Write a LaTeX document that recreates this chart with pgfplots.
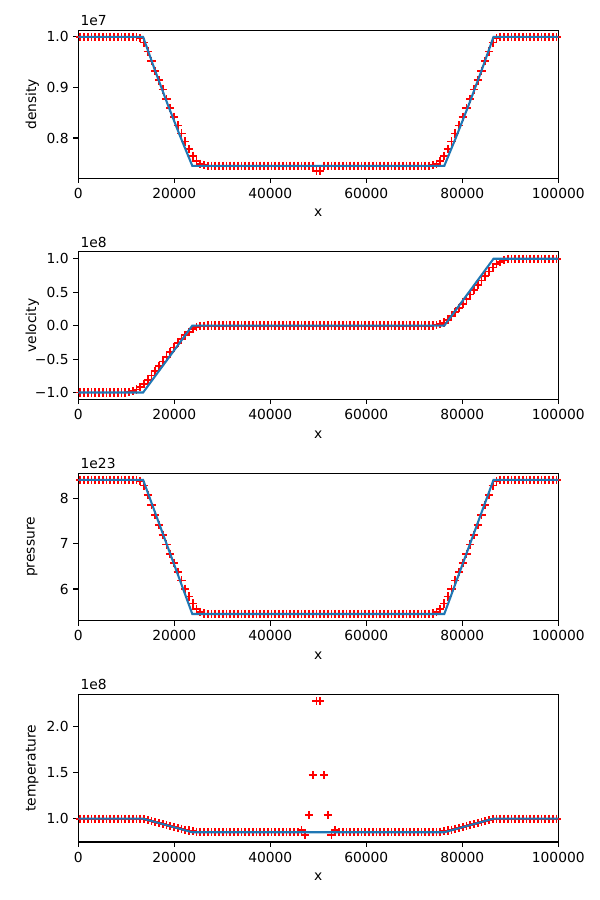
\documentclass[border=0pt]{standalone}
\usepackage{fontspec}
\setmainfont{DejaVu Sans}
\usepackage{pgfplots}
\usepackage{pgfplotstable}
\pgfplotsset{compat=1.18}
\definecolor{mplblue}{HTML}{1F77B4}

\pgfplotstableread{
x rho v p T
390.625 1.0 -1.0 8.40 1.0
1171.875 1.0 -1.0 8.40 1.0
1953.125 1.0 -1.0 8.40 1.0
2734.375 1.0 -1.0 8.40 1.0
3515.625 1.0 -1.0 8.40 1.0
4296.875 1.0 -1.0 8.40 1.0
5078.125 1.0 -1.0 8.40 1.0
5859.375 1.0 -1.0 8.40 1.0
6640.625 1.0 -1.0 8.40 1.0
7421.875 1.0 -1.0 8.40 1.0
8203.125 1.0 -1.0 8.40 1.0
8984.375 1.0 -1.0 8.40 1.0
9765.625 1.0 -1.0 8.40 1.0
10546.875 1.0 -0.997 8.40 1.0
11328.125 1.0 -0.98 8.40 1.0
12109.375 1.0 -0.955 8.40 1.0
12890.625 0.998 -0.92 8.379 0.999
13671.875 0.989 -0.87 8.276 0.994
14453.125 0.971 -0.81 8.061 0.983
15234.375 0.952 -0.745 7.845 0.972
16015.625 0.933 -0.675 7.627 0.961
16796.875 0.914 -0.605 7.409 0.951
17578.125 0.896 -0.535 7.191 0.940
18359.375 0.877 -0.465 6.978 0.929
19140.625 0.859 -0.395 6.772 0.919
19921.875 0.842 -0.328 6.571 0.909
20703.125 0.825 -0.262 6.376 0.899
21484.375 0.809 -0.200 6.188 0.890
22265.625 0.793 -0.142 6.005 0.881
23046.875 0.778 -0.090 5.834 0.872
23828.125 0.765 -0.048 5.680 0.864
24609.375 0.754 -0.020 5.559 0.858
25390.625 0.749 -0.006 5.491 0.855
26171.875 0.746 -0.001 5.462 0.854
26953.125 0.745 0.0 5.45 0.853
27734.375 0.745 0.0 5.45 0.853
28515.625 0.745 0.0 5.45 0.853
29296.875 0.745 0.0 5.45 0.853
30078.125 0.745 0.0 5.45 0.853
30859.375 0.745 0.0 5.45 0.853
31640.625 0.745 0.0 5.45 0.853
32421.875 0.745 0.0 5.45 0.853
33203.125 0.745 0.0 5.45 0.853
33984.375 0.745 0.0 5.45 0.853
34765.625 0.745 0.0 5.45 0.853
35546.875 0.745 0.0 5.45 0.853
36328.125 0.745 0.0 5.45 0.853
37109.375 0.745 0.0 5.45 0.853
37890.625 0.745 0.0 5.45 0.853
38671.875 0.745 0.0 5.45 0.853
39453.125 0.745 0.0 5.45 0.853
40234.375 0.745 0.0 5.45 0.853
41015.625 0.745 0.0 5.45 0.853
41796.875 0.745 0.0 5.45 0.853
42578.125 0.745 0.0 5.45 0.853
43359.375 0.745 0.0 5.45 0.853
44140.625 0.745 0.0 5.45 0.853
44921.875 0.745 0.0 5.45 0.853
45703.125 0.745 0.0 5.45 0.853
46484.375 0.745 0.0 5.45 0.874
47265.625 0.745 0.0 5.45 0.82
48046.875 0.745 0.0 5.45 1.04
48828.125 0.745 0.0 5.45 1.47
49609.375 0.735 0.0 5.45 2.27
50390.625 0.735 0.0 5.45 2.27
51171.875 0.745 0.0 5.45 1.47
51953.125 0.745 0.0 5.45 1.04
52734.375 0.745 0.0 5.45 0.82
53515.625 0.745 0.0 5.45 0.874
54296.875 0.745 0.0 5.45 0.853
55078.125 0.745 0.0 5.45 0.853
55859.375 0.745 0.0 5.45 0.853
56640.625 0.745 0.0 5.45 0.853
57421.875 0.745 0.0 5.45 0.853
58203.125 0.745 0.0 5.45 0.853
58984.375 0.745 0.0 5.45 0.853
59765.625 0.745 0.0 5.45 0.853
60546.875 0.745 0.0 5.45 0.853
61328.125 0.745 0.0 5.45 0.853
62109.375 0.745 0.0 5.45 0.853
62890.625 0.745 0.0 5.45 0.853
63671.875 0.745 0.0 5.45 0.853
64453.125 0.745 0.0 5.45 0.853
65234.375 0.745 0.0 5.45 0.853
66015.625 0.745 0.0 5.45 0.853
66796.875 0.745 0.0 5.45 0.853
67578.125 0.745 0.0 5.45 0.853
68359.375 0.745 0.0 5.45 0.853
69140.625 0.745 0.0 5.45 0.853
69921.875 0.745 0.0 5.45 0.853
70703.125 0.745 0.0 5.45 0.853
71484.375 0.745 0.0 5.45 0.853
72265.625 0.745 0.0 5.45 0.853
73046.875 0.745 0.0 5.45 0.853
73828.125 0.746 0.001 5.462 0.854
74609.375 0.749 0.006 5.491 0.855
75390.625 0.754 0.020 5.559 0.858
76171.875 0.765 0.048 5.680 0.864
76953.125 0.778 0.090 5.834 0.872
77734.375 0.793 0.142 6.005 0.881
78515.625 0.809 0.200 6.188 0.890
79296.875 0.825 0.262 6.376 0.899
80078.125 0.842 0.328 6.571 0.909
80859.375 0.859 0.395 6.772 0.919
81640.625 0.877 0.465 6.978 0.929
82421.875 0.896 0.535 7.191 0.940
83203.125 0.914 0.605 7.409 0.951
83984.375 0.933 0.675 7.627 0.961
84765.625 0.952 0.745 7.845 0.972
85546.875 0.971 0.81 8.061 0.983
86328.125 0.989 0.87 8.276 0.994
87109.375 0.998 0.92 8.379 0.999
87890.625 1.0 0.955 8.40 1.0
88671.875 1.0 0.98 8.40 1.0
89453.125 1.0 0.997 8.40 1.0
90234.375 1.0 1.0 8.40 1.0
91015.625 1.0 1.0 8.40 1.0
91796.875 1.0 1.0 8.40 1.0
92578.125 1.0 1.0 8.40 1.0
93359.375 1.0 1.0 8.40 1.0
94140.625 1.0 1.0 8.40 1.0
94921.875 1.0 1.0 8.40 1.0
95703.125 1.0 1.0 8.40 1.0
96484.375 1.0 1.0 8.40 1.0
97265.625 1.0 1.0 8.40 1.0
98046.875 1.0 1.0 8.40 1.0
98828.125 1.0 1.0 8.40 1.0
99609.375 1.0 1.0 8.40 1.0
}\num

\pgfplotstableread{
x rho v p T
0 1.0 -1.0 8.40 1.0
13500 1.0 -1.0 8.40 1.0
16062 0.9316 -0.75 7.6625 0.96325
18625 0.8664 -0.5 6.925 0.9265
21188 0.8042 -0.25 6.1875 0.88975
23750 0.745 0.0 5.45 0.853
76250 0.745 0.0 5.45 0.853
78812 0.8042 0.25 6.1875 0.88975
81375 0.8664 0.5 6.925 0.9265
83938 0.9316 0.75 7.6625 0.96325
86500 1.0 1.0 8.40 1.0
100000 1.0 1.0 8.40 1.0
}\exact

\pgfplotsset{
  mpl/.style={
    scale only axis, width=4.8in, height=1.475in,
    anchor=north west,
    xmin=0, xmax=100000,
    xtick={0,20000,40000,60000,80000,100000},
    xticklabels={0,20000,40000,60000,80000,100000},
    scaled x ticks=false,
    tick align=outside, tick pos=left,
    major tick length=3.5pt,
    every tick/.style={black, line width=0.8pt},
    axis line style={line width=0.8pt},
    tick label style={font=\fontsize{10}{12}\selectfont},
    label style={font=\fontsize{10}{12}\selectfont},
    xlabel={x},
    every axis x label/.style={at={(axis description cs:0.5,-0.237)}, anchor=center},
    every axis y label/.style={at={(axis description cs:-0.096,0.5)}, anchor=center, rotate=90},
    clip mode=individual,
  },
  num/.style={only marks, mark=+, mark size=3pt, color=red, mark options={draw=red, line width=1.3pt}},
  ex/.style={mplblue, line width=1.5pt, no marks},
}

\begin{document}
\begin{tikzpicture}
\useasboundingbox (0,0) rectangle (6in,9in);

\begin{axis}[mpl, at={(0.783in,8.694in)},
  ymin=0.7208, ymax=1.0125,
  ytick={0.8,0.9,1.0}, yticklabels={0.8,0.9,1.0},
  ylabel={density}]
\addplot[num] table[x=x,y=rho]{\num};
\addplot[ex] table[x=x,y=rho]{\exact};
\node[anchor=base west, font=\fontsize{10}{12}\selectfont, inner sep=0pt] at ([xshift=1.5pt,yshift=3.5pt]rel axis cs:0,1) {1e7};
\end{axis}

\begin{axis}[mpl, at={(0.783in,6.481in)},
  ymin=-1.103, ymax=1.103,
  ytick={-1,-0.5,0,0.5,1}, yticklabels={−1.0,−0.5,0.0,0.5,1.0},
  ylabel={velocity}]
\addplot[num] table[x=x,y=v]{\num};
\addplot[ex] table[x=x,y=v]{\exact};
\node[anchor=base west, font=\fontsize{10}{12}\selectfont, inner sep=0pt] at ([xshift=1.5pt,yshift=3.5pt]rel axis cs:0,1) {1e8};
\end{axis}

\begin{axis}[mpl, at={(0.783in,4.268in)},
  ymin=5.3025, ymax=8.5475,
  ytick={6,7,8}, yticklabels={6,7,8},
  ylabel={pressure}]
\addplot[num] table[x=x,y=p]{\num};
\addplot[ex] table[x=x,y=p]{\exact};
\node[anchor=base west, font=\fontsize{10}{12}\selectfont, inner sep=0pt] at ([xshift=1.5pt,yshift=3.5pt]rel axis cs:0,1) {1e23};
\end{axis}

\begin{axis}[mpl, at={(0.783in,2.055in)},
  ymin=0.7475, ymax=2.3425,
  ytick={1.0,1.5,2.0}, yticklabels={1.0,1.5,2.0},
  ylabel={temperature}]
\addplot[num] table[x=x,y=T]{\num};
\addplot[ex] table[x=x,y=T]{\exact};
\node[anchor=base west, font=\fontsize{10}{12}\selectfont, inner sep=0pt] at ([xshift=1.5pt,yshift=3.5pt]rel axis cs:0,1) {1e8};
\end{axis}
\end{tikzpicture}
\end{document}
